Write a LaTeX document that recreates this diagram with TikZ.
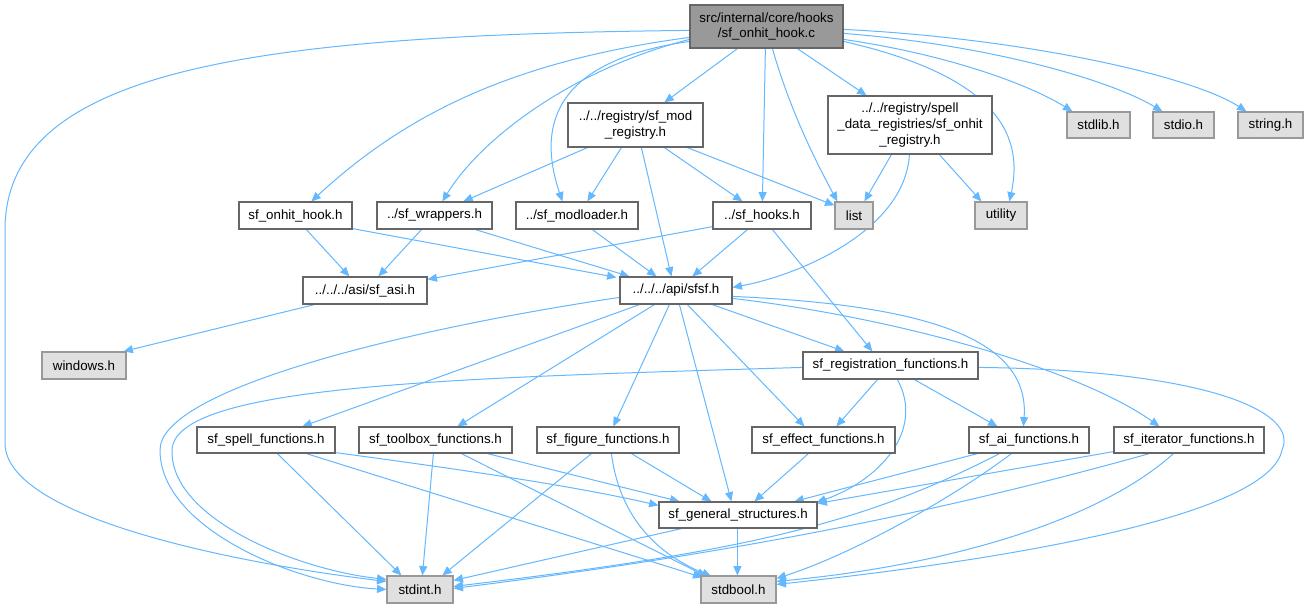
\documentclass[tikz,border=0pt]{standalone}
\usepackage{fontspec}
\setmainfont{Liberation Sans}
\usetikzlibrary{arrows.meta,calc}
\definecolor{edgeblue}{HTML}{63B8FF}
\definecolor{cdark}{HTML}{666666}
\definecolor{cmid}{HTML}{999999}
\definecolor{clight}{HTML}{E0E0E0}
\pgfdeclarelayer{bg}
\pgfsetlayers{bg,main}
\tikzset{
  every node/.style={font=\fontsize{10}{11.7}\selectfont, inner sep=0pt, align=center, text=black},
  hbox/.style={draw=cdark, fill=white, line width=0.9pt},
  sysbox/.style={draw=cmid, fill=clight, line width=0.9pt},
  rootbox/.style={draw=cdark, fill=cmid, line width=0.9pt},
  sz/.style 2 args={minimum width=#1*0.75pt, minimum height=#2*0.75pt},
  dep/.style={draw=edgeblue, line width=0.75pt, -{Triangle[length=7pt,width=6pt]}},
}
\begin{document}
\begin{tikzpicture}[x=0.75pt,y=-0.75pt]
\useasboundingbox (0,0) rectangle (1308,608);
% nodes
\node[rootbox, sz={153}{43}] (root) at (766.5,26.5) {src/internal/core/hooks\\/sf\_onhit\_hook.c};
\node[hbox, sz={135}{44}] (modreg) at (635.5,125) {../../registry/sf\_mod\\\_registry.h};
\node[hbox, sz={164}{58}] (onhitreg) at (910,125) {../../registry/spell\\\_data\_registries/sf\_onhit\\\_registry.h};
\node[sysbox, sz={38}{27}] (list) at (854,215.5) {list};
\node[sysbox, sz={52}{27}] (utility) at (1001,215.5) {utility};
\node[hbox, sz={98}{27}] (sthooks) at (762,215.5) {../sf\_hooks.h};
\node[hbox, sz={122}{27}] (modloader) at (577,215.5) {../sf\_modloader.h};
\node[hbox, sz={115}{27}] (wrappers) at (434.5,215.5) {../sf\_wrappers.h};
\node[hbox, sz={113}{27}] (onhithook) at (295.5,215.5) {sf\_onhit\_hook.h};
\node[hbox, sz={124}{27}] (sfasi) at (365,290.5) {../../../asi/sf\_asi.h};
\node[hbox, sz={112}{27}] (sfsf) at (676,290.5) {../../../api/sfsf.h};
\node[sysbox, sz={84}{27}] (windows) at (84,365.5) {windows.h};
\node[hbox, sz={175}{27}] (sfreg) at (890.5,365.5) {sf\_registration\_functions.h};
\node[hbox, sz={138}{26}] (stspell) at (266,440) {sf\_spell\_functions.h};
\node[hbox, sz={153}{26}] (sttoolbox) at (435.5,440) {sf\_toolbox\_functions.h};
\node[hbox, sz={142}{26}] (stfigure) at (608,440) {sf\_figure\_functions.h};
\node[hbox, sz={143}{26}] (sfeffect) at (823.5,440) {sf\_effect\_functions.h};
\node[hbox, sz={120}{26}] (stai) at (1029,440) {sf\_ai\_functions.h};
\node[hbox, sz={150}{26}] (stiter) at (1189,440) {sf\_iterator\_functions.h};
\node[hbox, sz={158}{26}] (sfgeneral) at (738,515) {sf\_general\_structures.h};
\node[sysbox, sz={66}{27}] (stdint) at (420,589.5) {stdint.h};
\node[sysbox, sz={75}{27}] (stdbool) at (738.5,589.5) {stdbool.h};
\node[sysbox, sz={63}{26}] (stdlib) at (1098.5,125) {stdlib.h};
\node[sysbox, sz={61}{26}] (stdio) at (1183.5,125) {stdio.h};
\node[sysbox, sz={65}{26}] (string) at (1270.5,125) {string.h};
\begin{pgfonlayer}{bg}
\fill[white] (0,0) rectangle (1308,608);
% root
\draw[dep] ($(root.south west)+(48,0)$) -- ($(modreg.north west)+(97,0)$);
\draw[dep] ($(root.south west)+(76,0)$) -- ($(sthooks.north west)+(50,0)$);
\draw[dep] ($(root.south west)+(83,0)$) .. controls (790,110) and (815,160) .. ($(list.north west)+(3,0)$);
\draw[dep] ($(root.south west)+(108,0)$) -- ($(onhitreg.north west)+(39,0)$);
\draw[dep] ($(root.north east)+(0,37)$) .. controls (990,75) and (1025,130) .. ($(utility.north west)+(35,0)$);
\draw[dep] ($(root.north east)+(0,35)$) .. controls (950,55) and (1030,85) .. ($(stdlib.north west)+(6,0)$);
\draw[dep] ($(root.north east)+(0,29)$) .. controls (990,45) and (1110,80) .. ($(stdio.north west)+(10,0)$);
\draw[dep] ($(root.north east)+(0,25)$) .. controls (1020,38) and (1190,75) .. ($(string.north west)+(9,0)$);
\draw[dep] ($(root.north west)+(0,33)$) .. controls (520,60) and (410,110) .. ($(onhithook.north west)+(73,0)$);
\draw[dep] ($(root.north west)+(0,35)$) .. controls (570,70) and (480,140) .. ($(wrappers.north west)+(66,0)$);
\draw[dep] ($(root.north west)+(0,37)$) .. controls (560,60) and (535,120) .. ($(modloader.north west)+(47,0)$);
\draw[dep] ($(root.north west)+(0,26)$) .. controls (250,35) and (5,70) .. (5,230) -- (5,443) .. controls (5,520) and (250,565) .. ($(stdint.north west)+(0,6)$);
% modreg
\draw[dep] ($(modreg.south west)+(20,0)$) -- ($(wrappers.north west)+(87,0)$);
\draw[dep] ($(modreg.south west)+(54,0)$) -- ($(modloader.north west)+(72,0)$);
\draw[dep] ($(modreg.south west)+(74,0)$) -- ($(sfsf.north west)+(52,0)$);
\draw[dep] ($(modreg.south west)+(97,0)$) -- ($(sthooks.north west)+(30,0)$);
\draw[dep] ($(modreg.south west)+(120,0)$) -- ($(list.north west)+(0,4)$);
% onhitreg
\draw[dep] ($(onhitreg.south west)+(64,0)$) -- ($(list.north west)+(30,0)$);
\draw[dep] ($(onhitreg.south west)+(112,0)$) -- ($(utility.north west)+(7,0)$);
\draw[dep] ($(onhitreg.south west)+(82,0)$) .. controls (905,230) and (800,275) .. ($(sfsf.north east)+(0,11)$);
% second row
\draw[dep] ($(onhithook.south west)+(68,0)$) -- ($(sfasi.north west)+(47,0)$);
\draw[dep] ($(onhithook.south east)+(0,-1)$) -- ($(sfsf.north west)+(-3,1)$);
\draw[dep] ($(wrappers.south west)+(45,0)$) -- ($(sfasi.north west)+(76,0)$);
\draw[dep] ($(wrappers.south west)+(99,0)$) -- ($(sfsf.north west)+(10,0)$);
\draw[dep] ($(modloader.south west)+(77,0)$) -- ($(sfsf.north west)+(37,0)$);
\draw[dep] ($(sthooks.south west)+(35,0)$) -- ($(sfsf.north west)+(73,0)$);
\draw[dep] ($(sthooks.south west)+(0,-3)$) -- ($(sfasi.north east)+(0,3)$);
\draw[dep] ($(sthooks.south west)+(60,0)$) -- ($(sfreg.north west)+(70,0)$);
\draw[dep] ($(sfasi.south west)+(12,0)$) -- ($(windows.north east)+(-3,0)$);
% sfsf
\draw[dep] ($(sfsf.north west)+(0,21)$) .. controls (400,330) and (160,390) .. (160,450) .. controls (160,530) and (300,585) .. ($(stdint.north west)+(0,14)$);
\draw[dep] ($(sfsf.south west)+(20,0)$) -- ($(stspell.north west)+(106,0)$);
\draw[dep] ($(sfsf.south west)+(35,0)$) -- ($(sttoolbox.north west)+(99,0)$);
\draw[dep] ($(sfsf.south west)+(50,0)$) -- ($(stfigure.north west)+(77,0)$);
\draw[dep] ($(sfsf.south west)+(60,0)$) -- ($(sfgeneral.north west)+(73,0)$);
\draw[dep] ($(sfsf.south west)+(68,0)$) -- ($(sfeffect.north west)+(53,0)$);
\draw[dep] ($(sfsf.south west)+(93,0)$) -- ($(sfreg.north west)+(42,0)$);
\draw[dep] ($(sfsf.north east)+(0,20)$) .. controls (930,305) and (1030,340) .. ($(stai.north west)+(55,0)$);
\draw[dep] ($(sfsf.north east)+(0,22)$) .. controls (900,318) and (1080,370) .. ($(stiter.north west)+(46,0)$);
% sfreg
\draw[dep] ($(sfreg.south west)+(75,0)$) -- ($(sfeffect.north west)+(85,0)$);
\draw[dep] ($(sfreg.south west)+(112,0)$) -- ($(stai.north west)+(29,0)$);
\draw[dep] ($(sfreg.south west)+(95,0)$) .. controls (925,430) and (880,480) .. ($(sfgeneral.north east)+(-1,1)$);
\draw[dep] ($(sfreg.north west)+(0,16)$) .. controls (450,378) and (175,385) .. (172,450) .. controls (170,520) and (300,570) .. ($(stdint.north west)+(0,4)$);
\draw[dep] ($(sfreg.north east)+(0,16)$) .. controls (1200,370) and (1300,410) .. (1282,450) .. controls (1270,510) and (1050,555) .. ($(stdbool.north east)+(0,9)$);
% third row
\draw[dep] ($(stspell.south west)+(81,0)$) -- ($(stdint.north west)+(15,0)$);
\draw[dep] ($(stspell.south east)+(0,-1)$) .. controls (450,468) and (570,485) .. ($(sfgeneral.north west)+(0,4)$);
\draw[dep] ($(stspell.south west)+(110,0)$) -- ($(stdbool.north west)+(2,2)$);
\draw[dep] ($(sttoolbox.south west)+(75,0)$) -- ($(stdint.north west)+(36,0)$);
\draw[dep] ($(sttoolbox.south west)+(129,0)$) -- ($(sfgeneral.north west)+(21,0)$);
\draw[dep] ($(sttoolbox.south west)+(103,0)$) -- ($(stdbool.north west)+(6,1)$);
\draw[dep] ($(stfigure.south west)+(55,0)$) -- ($(stdint.north west)+(56,0)$);
\draw[dep] ($(stfigure.south west)+(95,0)$) -- ($(sfgeneral.north west)+(53,0)$);
\draw[dep] ($(stfigure.south west)+(75,0)$) .. controls (620,520) and (660,555) .. ($(stdbool.north west)+(11,1)$);
\draw[dep] ($(sfeffect.south west)+(57,0)$) -- ($(sfgeneral.north west)+(96,0)$);
\draw[dep] ($(stai.south west)+(9,0)$) -- ($(sfgeneral.north west)+(136,0)$);
\draw[dep] ($(stai.south west)+(31,0)$) .. controls (870,520) and (760,550) .. ($(stdint.north east)+(0,11)$);
\draw[dep] ($(stai.south west)+(43,0)$) .. controls (950,500) and (850,555) .. ($(stdbool.north east)+(0,3)$);
\draw[dep] ($(stiter.south west)+(0,-2)$) -- ($(sfgeneral.north east)+(0,2)$);
\draw[dep] ($(stiter.south west)+(36,0)$) .. controls (1000,495) and (800,545) .. ($(stdint.north east)+(0,13)$);
\draw[dep] ($(stiter.south west)+(60,0)$) .. controls (1100,520) and (950,565) .. ($(stdbool.north east)+(0,6)$);
% sfgeneral
\draw[dep] ($(sfgeneral.south west)+(23,0)$) -- ($(stdint.north east)+(0,5)$);
\draw[dep] ($(sfgeneral.south west)+(79,0)$) -- ($(stdbool.north west)+(37,0)$);
\end{pgfonlayer}
\end{tikzpicture}
\end{document}
